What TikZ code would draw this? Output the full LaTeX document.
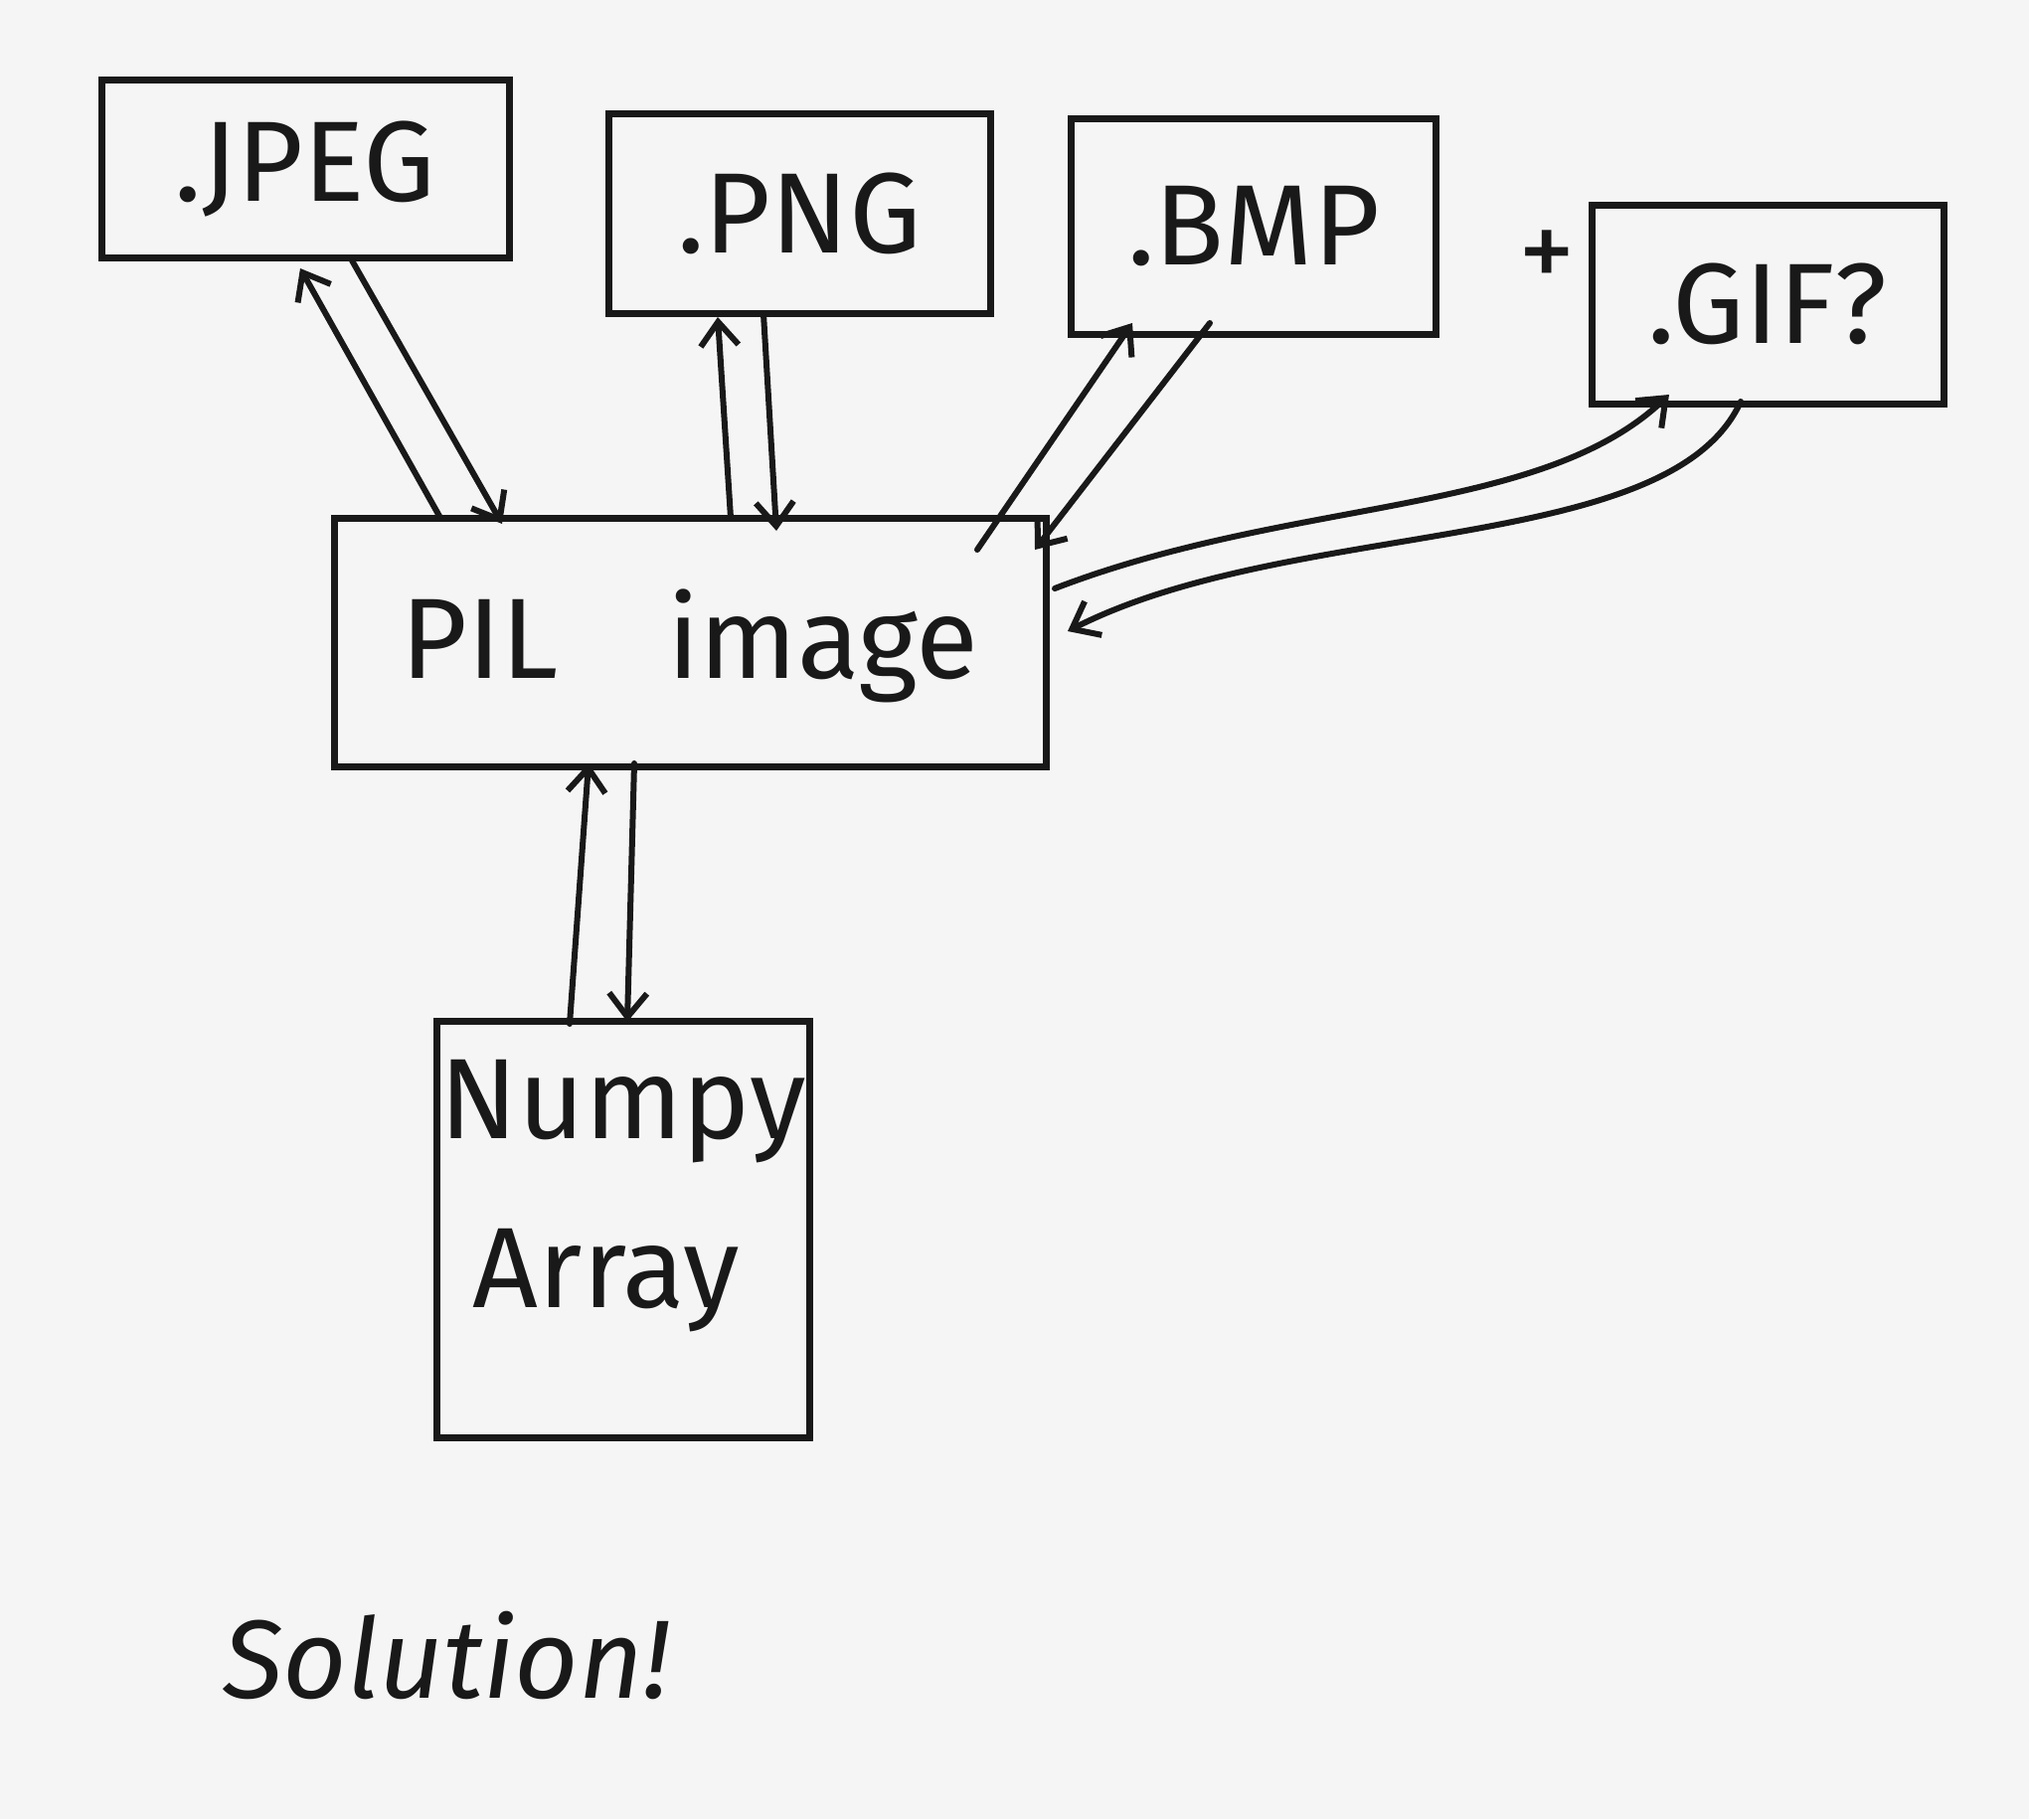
\documentclass[tikz,border=0pt]{standalone}
\usepackage{fontspec}
\setmainfont{Fira Sans}
\usetikzlibrary{arrows.meta}
\begin{document}
\begin{tikzpicture}[x=1pt,y=-1pt,
  box/.style={draw=black!90, line width=7pt, inner sep=0pt},
  lbl/.style={font=\fontsize{115}{125}\selectfont, text=black!90},
  conn/.style={draw=black!90, line width=6pt, line cap=round,
     -{Straight Barb[length=24pt,width=38pt,line width=6pt]}}]
\useasboundingbox[fill=black!4] (0,0) rectangle (2041,1830);
% boxes
\node[box, minimum width=410pt, minimum height=179pt] (jpeg) at (307,170) {};
\node[box, minimum width=384pt, minimum height=201pt] (png) at (804,215) {};
\node[box, minimum width=367pt, minimum height=216pt] (bmp) at (1261,228) {};
\node[box, minimum width=354pt, minimum height=200pt] (gif) at (1778,306) {};
\node[box, minimum width=716pt, minimum height=250pt] (pil) at (694,646) {};
\node[box, minimum width=375pt, minimum height=419pt] (np) at (627,1237) {};
% labels
\node[lbl] (tjpeg) at (jpeg.center) {.JPEG};
\node[lbl] (tpng) at (png.center) {.PNG};
\node[lbl] (tbmp) at (bmp.center) {.BMP};
\node[lbl] (tgif) at (gif.center) {.GIF?};
\node[lbl] (plus) at (1556,262) {+};
\node[lbl] (tpil) at ([yshift=-4pt]pil.center) {PIL\hspace{110pt}image};
\node[lbl] (tnum) at (627,1118) {Numpy};
\node[lbl] (tarr) at (610,1288) {Array};
\node[lbl, font=\fontsize{112}{120}\selectfont\itshape] (sol) at (449,1665) {Solution!};
% endpoint coordinates
\coordinate (a1) at (443,521); \coordinate (a2) at (302,270);
\coordinate (b1) at (354,262); \coordinate (b2) at (505,527);
\coordinate (c1) at (735,521); \coordinate (c2) at (722,319);
\coordinate (d1) at (768,316); \coordinate (d2) at (781,534);
\coordinate (e1) at (983,553); \coordinate (e2) at (1139,325);
\coordinate (f1) at (1217,325); \coordinate (f2) at (1041,553);
\coordinate (g1) at (1061,592); \coordinate (g2) at (1679,397);
\coordinate (h1) at (1751,404); \coordinate (h2) at (1074,635);
\coordinate (i1) at (573,1030); \coordinate (i2) at (592,768);
\coordinate (j1) at (638,768); \coordinate (j2) at (631,1028);
% connectors
\draw[conn] (a1) -- (a2);
\draw[conn] (b1) -- (b2);
\draw[conn] (c1) -- (c2);
\draw[conn] (d1) -- (d2);
\draw[conn] (e1) -- (e2);
\draw[conn] (f1) -- (f2);
\draw[conn] (g1) .. controls (1300,500) and (1550,520) .. (g2);
\draw[conn] (h1) .. controls (1680,560) and (1300,520) .. (h2);
\draw[conn] (i1) -- (i2);
\draw[conn] (j1) -- (j2);
\end{tikzpicture}
\end{document}
